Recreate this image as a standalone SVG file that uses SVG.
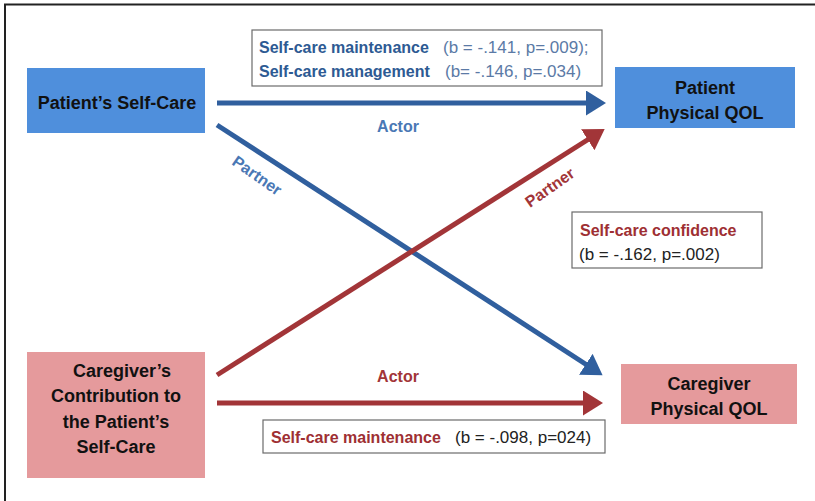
<svg xmlns="http://www.w3.org/2000/svg" width="815" height="501" viewBox="0 0 815 501">
<defs>
<style>
text{font-family:"Liberation Sans",Arial,sans-serif;}
.node-b{fill:#4f8fdc;}
.node-r{fill:#e59a9c;}
.nt{font-weight:bold;font-size:18px;fill:#111;text-anchor:middle;}
.lbl{fill:#fff;stroke:#6b6b6b;stroke-width:1.2;}
.bb{font-weight:bold;font-size:16px;fill:#2d5a93;}
.bv{font-size:17px;fill:#5b7aa6;}
.rb{font-weight:bold;font-size:16px;fill:#9e2f33;}
.rv{font-size:17px;fill:#222;}
.ab{stroke:#305f9e;stroke-width:5;fill:none;}
.ar{stroke:#a23538;stroke-width:5;fill:none;}
.ta{font-size:16px;font-weight:bold;text-anchor:middle;}
</style>
<marker id="mb" markerWidth="5" markerHeight="5" refX="1" refY="2.5" orient="auto" markerUnits="strokeWidth"><path d="M0,0 L4,2.5 L0,5 Z" fill="#305f9e"/></marker>
<marker id="mr" markerWidth="5" markerHeight="5" refX="1" refY="2.5" orient="auto" markerUnits="strokeWidth"><path d="M0,0 L4,2.5 L0,5 Z" fill="#a23538"/></marker>
</defs>
<rect width="815" height="501" fill="#fff"/>
<path d="M5,501 V4.5 H815" fill="none" stroke="#222" stroke-width="2"/>

<g id="connectors">
<line class="ab" x1="217" y1="103" x2="591" y2="103" marker-end="url(#mb)"/>
<line class="ab" x1="217" y1="125" x2="590" y2="367" marker-end="url(#mb)"/>
<line class="ar" x1="217" y1="375" x2="592" y2="137" marker-end="url(#mr)"/>
<line class="ar" x1="217" y1="403" x2="588" y2="403" marker-end="url(#mr)"/>
<text class="ta" x="398" y="132" fill="#4a78b5">Actor</text>
<text class="ta" x="254" y="180" fill="#4a78b5" transform="rotate(35 254 180)">Partner</text>
<text class="ta" x="553" y="192" fill="#a23538" transform="rotate(-35 553 192)">Partner</text>
<text class="ta" x="398" y="382" fill="#a23538">Actor</text>
</g>

<g id="n-patient-selfcare">
<rect class="node-b" x="27" y="68" width="178" height="65"/>
<text class="nt" x="117" y="109">Patient’s Self-Care</text>
</g>
<g id="n-patient-qol">
<rect class="node-b" x="615" y="67" width="180" height="61"/>
<text class="nt" x="705" y="94">Patient</text>
<text class="nt" x="705" y="119">Physical QOL</text>
</g>
<g id="n-caregiver-contrib">
<rect class="node-r" x="27" y="352" width="178" height="126"/>
<text class="nt" x="122" y="377">Caregiver’s</text>
<text class="nt" x="116" y="402">Contribution to</text>
<text class="nt" x="116" y="428">the Patient’s</text>
<text class="nt" x="116" y="453">Self-Care</text>
</g>
<g id="n-caregiver-qol">
<rect class="node-r" x="621" y="364" width="176" height="60"/>
<text class="nt" x="709" y="390">Caregiver</text>
<text class="nt" x="709" y="415">Physical QOL</text>
</g>

<g id="l-top">
<rect class="lbl" x="252" y="30" width="350" height="56"/>
<text x="259" y="53"><tspan class="bb">Self-care maintenance</tspan><tspan class="bv" x="443">(b = -.141, p=.009);</tspan></text>
<text x="259" y="77"><tspan class="bb">Self-care management</tspan><tspan class="bv" x="445">(b= -.146, p=.034)</tspan></text>
</g>
<g id="l-confidence">
<rect class="lbl" x="572" y="212" width="190" height="56"/>
<text class="rb" x="580" y="236">Self-care confidence</text>
<text class="rv" x="579" y="260">(b = -.162, p=.002)</text>
</g>
<g id="l-bottom">
<rect class="lbl" x="263" y="420" width="342" height="33"/>
<text x="271" y="443"><tspan class="rb">Self-care maintenance</tspan><tspan class="rv" x="455">(b = -.098, p=024)</tspan></text>
</g>
</svg>
